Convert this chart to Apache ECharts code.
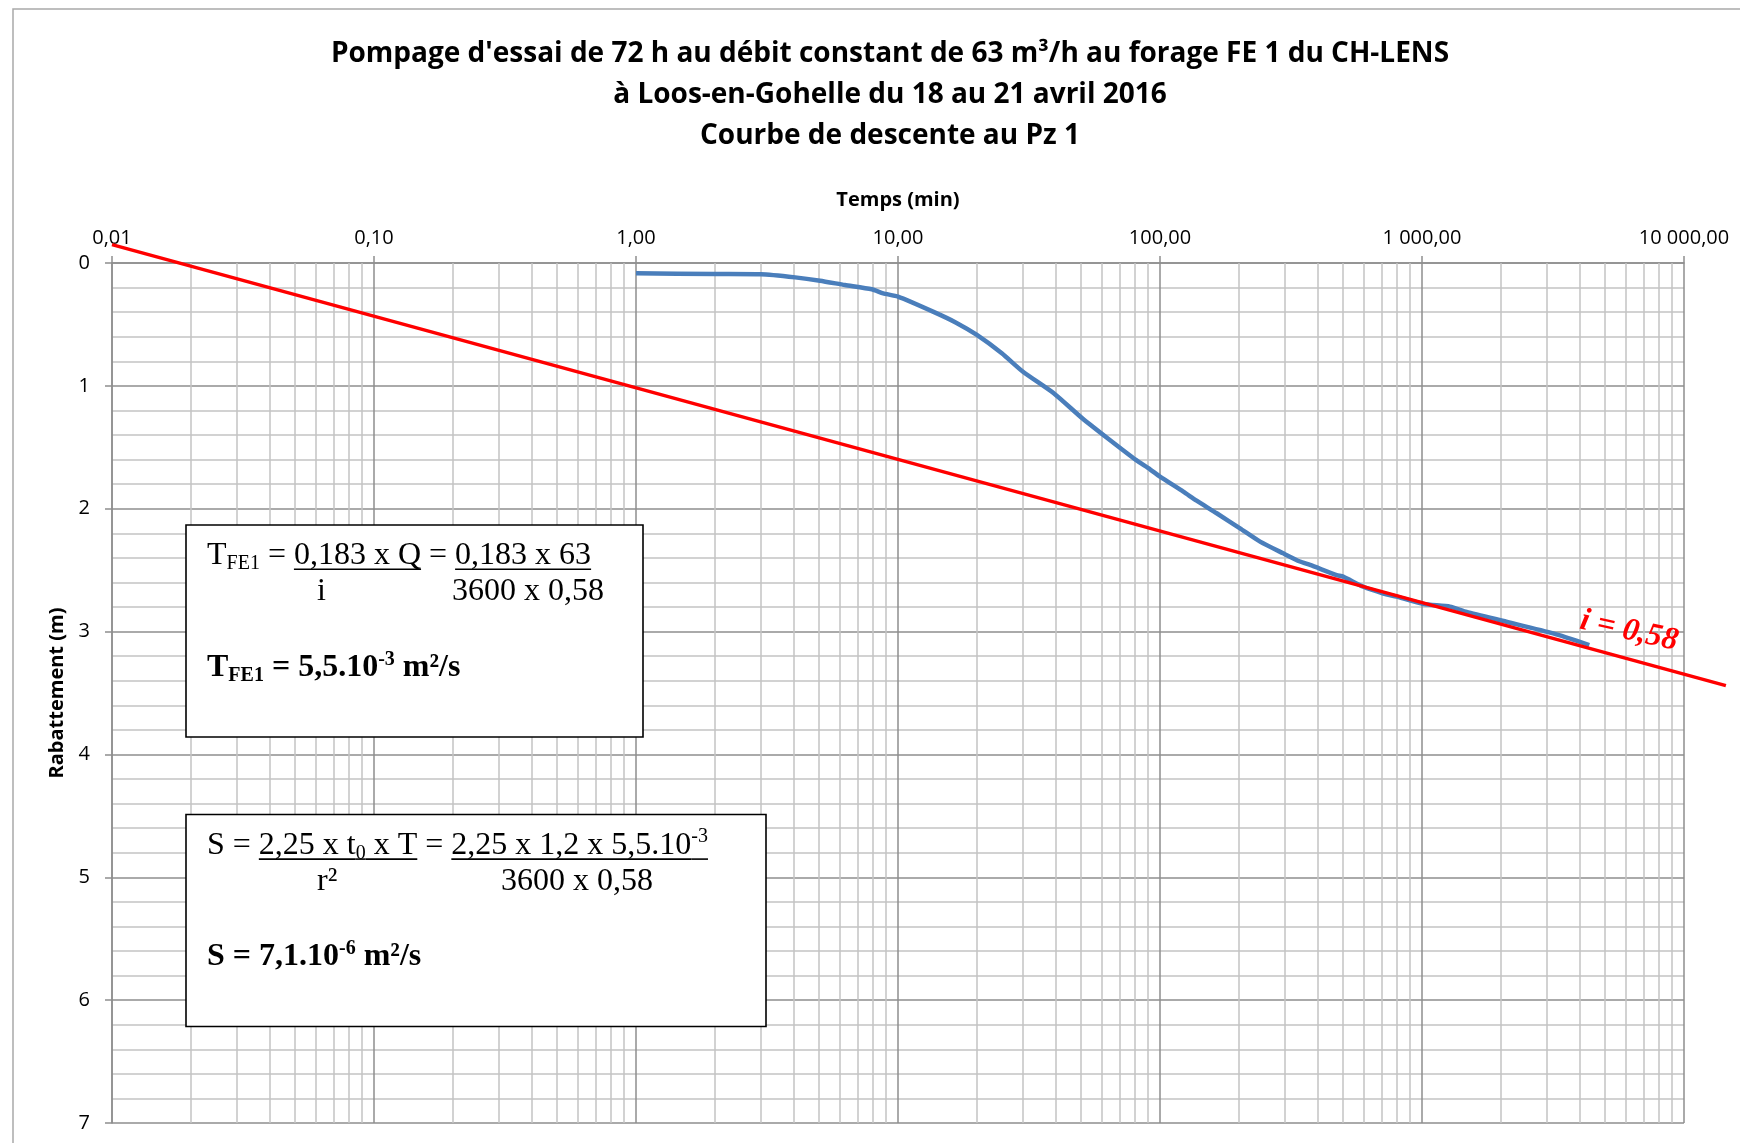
<!DOCTYPE html>
<html>
<head>
<meta charset="utf-8">
<script src="https://cdn.jsdelivr.net/npm/echarts@6/dist/echarts.min.js"></script>
<style>
html,body{margin:0;padding:0;background:#fff;}
#chart{width:1740px;height:1143px;}
</style>
</head>
<body>
<div id="chart"></div>
<script>
// ---- data ----
const titleLines = [
  "Pompage d'essai de 72 h au débit constant de 63 m³/h au forage FE 1 du CH-LENS",
  "à Loos-en-Gohelle du 18 au 21 avril 2016",
  "Courbe de descente au Pz 1"
];
const xAxisName = 'Temps (min)';
const yAxisName = 'Rabattement (m)';
const xTicks = [0.01, 0.1, 1, 10, 100, 1000, 10000];
const xTickLabels = ['0,01', '0,10', '1,00', '10,00', '100,00', '1 000,00', '10 000,00'];
const yTicks = [0, 1, 2, 3, 4, 5, 6, 7];
const yTickLabels = ['0', '1', '2', '3', '4', '5', '6', '7'];

// observed drawdown at Pz 1 (time in min, drawdown in m)
const obsTime = [1, 2, 3, 4.05, 5.04, 6.27, 7.94, 8.78, 10, 13.6, 16.6, 20, 24.9, 30, 39.3, 50.5, 63.8, 80.9, 91.6, 100, 122.7, 138, 164.6, 202, 241, 295, 342, 374, 472, 500, 597, 712, 800, 1012, 1279, 1480, 2100, 3170, 4350];
const obsDrawdown = [0.084, 0.090, 0.092, 0.117, 0.144, 0.179, 0.214, 0.247, 0.274, 0.396, 0.484, 0.586, 0.735, 0.885, 1.06, 1.264, 1.435, 1.603, 1.679, 1.739, 1.861, 1.935, 2.037, 2.16, 2.268, 2.363, 2.43, 2.458, 2.54, 2.553, 2.635, 2.69, 2.716, 2.775, 2.797, 2.84, 2.92, 3.015, 3.11];

// Jacob straight line (end points; it runs past the 10 000 min gridline)
const fitTime = [0.01, 14450];
const fitDrawdown = [-0.15, 3.44];
const fitLabel = 'i = 0,58';

// ---- build ----
const obsData = obsTime.map((t, i) => [t, obsDrawdown[i]]);
const fitData = fitTime.map((t, i) => [t, fitDrawdown[i]]);

const minorX = [];
for (let d = 0; d < xTicks.length - 1; d++) {
  for (let k = 2; k <= 9; k++) minorX.push({ xAxis: +(xTicks[d] * k).toPrecision(6) });
}

const MAJOR = '#8e8e8e';
const MINOR = '#c3c3c3';
const SERIF = '"Liberation Serif", "Times New Roman", serif';
const SANS = '"Open Sans", "Liberation Sans", sans-serif';

// plot geometry (same decade width on both grids)
const GRID_L = 112, GRID_T = 263, GRID_R = 56, GRID_B = 20;
const DECADE = (1740 - GRID_L - GRID_R) / Math.log10(xTicks[xTicks.length - 1] / xTicks[0]);
const GRID2_R = 1740 - (GRID_L + DECADE * Math.log10(fitTime[1] / xTicks[0]));

// text layout helpers for the formula boxes
const mctx = document.createElement('canvas').getContext('2d');
function fontStr(size, bold, italic) {
  return (italic ? 'italic ' : '') + (bold ? 'bold ' : '') + size + 'px ' + SERIF;
}
function midOffset(size, bold) {
  mctx.font = fontStr(size, bold);
  mctx.textBaseline = 'alphabetic';
  const a = mctx.measureText('H').actualBoundingBoxAscent;
  mctx.textBaseline = 'middle';
  const b = mctx.measureText('H').actualBoundingBoxAscent;
  mctx.textBaseline = 'alphabetic';
  return a - b;
}
const graphics = [];
function textLine(x0, baseline, segs, base) {
  let x = x0;
  segs.forEach(s => {
    const size = s.size || base.size;
    const bold = s.bold !== undefined ? s.bold : base.bold;
    const dy = s.dy || 0;
    mctx.font = fontStr(size, bold);
    const w = mctx.measureText(s.t).width;
    graphics.push({
      type: 'text', z: 12, silent: true,
      style: {
        text: s.t, x: x, y: baseline + dy - midOffset(size, bold),
        font: fontStr(size, bold), fill: '#000',
        textAlign: 'left', align: 'left',
        textVerticalAlign: 'middle', verticalAlign: 'middle'
      }
    });
    if (s.ul) {
      graphics.push({
        type: 'line', z: 12, silent: true,
        shape: { x1: x, y1: baseline + 5.5, x2: x + w, y2: baseline + 5.5 },
        style: { stroke: '#000', lineWidth: 1.6 }
      });
    }
    x += w;
  });
}

// outer chart border
graphics.push({
  type: 'rect', z: 0, silent: true,
  shape: { x: 13, y: 9, width: 1740, height: 1150 },
  style: { fill: 'none', stroke: '#a9a9a9', lineWidth: 1.5 }
});
// formula boxes
graphics.push({
  type: 'rect', z: 11, silent: true,
  shape: { x: 186, y: 525, width: 457, height: 212 },
  style: { fill: '#fff', stroke: '#000', lineWidth: 1.6 }
});
graphics.push({
  type: 'rect', z: 11, silent: true,
  shape: { x: 186, y: 814.5, width: 580, height: 212 },
  style: { fill: '#fff', stroke: '#000', lineWidth: 1.6 }
});

const reg = { size: 32, bold: false };
const bld = { size: 32, bold: true };
textLine(207, 563.7, [
  { t: 'T' }, { t: 'FE1', size: 20, dy: 5 }, { t: ' = ' },
  { t: '0,183 x Q', ul: true }, { t: ' = ' }, { t: '0,183 x 63', ul: true }
], reg);
textLine(317, 600, [{ t: 'i' }], reg);
textLine(452, 600, [{ t: '3600 x 0,58' }], reg);
textLine(207, 675.6, [
  { t: 'T' }, { t: 'FE1', size: 20, dy: 5 }, { t: ' = 5,5.10' },
  { t: '-3', size: 20, dy: -11 }, { t: ' m²/s' }
], bld);

textLine(207, 853.6, [
  { t: 'S = ' }, { t: '2,25 x t', ul: true }, { t: '0', size: 20, dy: 5, ul: true },
  { t: ' x T', ul: true }, { t: ' = ' }, { t: '2,25 x 1,2 x 5,5.10', ul: true },
  { t: '-3', size: 20, dy: -12, ul: true }
], reg);
textLine(317, 890, [{ t: 'r²' }], reg);
textLine(501, 890, [{ t: '3600 x 0,58' }], reg);
textLine(207, 965, [
  { t: 'S = 7,1.10' }, { t: '-6', size: 20, dy: -11 }, { t: ' m²/s' }
], bld);

// slope label
graphics.push({
  type: 'text', z: 12, silent: true,
  x: 1629, y: 631, rotation: -0.22,
  style: {
    text: fitLabel, x: 0, y: 0,
    font: fontStr(32, true, true), fill: '#ff0000',
    textAlign: 'center', align: 'center',
    textVerticalAlign: 'middle', verticalAlign: 'middle'
  }
});

function xLabel(v) {
  for (let i = 0; i < xTicks.length; i++) {
    if (Math.abs(Math.log10(v) - Math.log10(xTicks[i])) < 1e-6) return xTickLabels[i];
  }
  return '';
}
function yLabel(v) {
  const i = yTicks.findIndex(t => Math.abs(t - v) < 1e-9);
  return i >= 0 ? yTickLabels[i] : '';
}

const chart = echarts.init(document.getElementById('chart'), null, { renderer: 'canvas' });
chart.setOption({
  animation: false,
  backgroundColor: '#fff',
  title: {
    text: titleLines.join('\n'),
    left: 885, top: 29, textAlign: 'center',
    textStyle: { fontFamily: SANS, fontWeight: 'bold', fontSize: 28, lineHeight: 41, color: '#000' }
  },
  grid: [
    { left: GRID_L, top: GRID_T, right: GRID_R, bottom: GRID_B, containLabel: false },
    { left: GRID_L, top: GRID_T, right: GRID2_R, bottom: GRID_B, containLabel: false, show: false }
  ],
  xAxis: [{
    type: 'log', logBase: 10, min: xTicks[0], max: xTicks[xTicks.length - 1], position: 'top', gridIndex: 0,
    name: xAxisName, nameLocation: 'middle', nameGap: 53,
    nameTextStyle: { fontFamily: SANS, fontWeight: 'bold', fontSize: 20, color: '#000' },
    axisLine: { show: true, onZero: false, lineStyle: { color: MAJOR, width: 1.5 } },
    axisTick: { show: true, length: 7, lineStyle: { color: MAJOR, width: 1.5 } },
    axisLabel: { formatter: xLabel, fontFamily: SANS, fontSize: 20, color: '#000', margin: 15 },
    splitLine: { show: true, lineStyle: { color: MAJOR, width: 1.5 } },
    minorTick: { show: false },
    minorSplitLine: { show: false }
  }, {
    type: 'log', logBase: 10, min: fitTime[0], max: fitTime[1], gridIndex: 1, show: false,
    splitLine: { show: false }
  }],
  yAxis: [{
    type: 'value', inverse: true, min: yTicks[0], max: yTicks[yTicks.length - 1], interval: 1, gridIndex: 0,
    name: yAxisName, nameLocation: 'middle', nameGap: 42, nameRotate: 90,
    nameTextStyle: { fontFamily: SANS, fontWeight: 'bold', fontSize: 20, color: '#000' },
    axisLine: { show: true, onZero: false, lineStyle: { color: MAJOR, width: 1.5 } },
    axisTick: { show: true, length: 7, lineStyle: { color: MAJOR, width: 1.5 } },
    axisLabel: { formatter: yLabel, fontFamily: SANS, fontSize: 20, color: '#000', margin: 22 },
    splitLine: { show: true, lineStyle: { color: MAJOR, width: 1.5 } },
    minorTick: { show: false, splitNumber: 5 },
    minorSplitLine: { show: true, lineStyle: { color: MINOR, width: 1.5 } }
  }, {
    type: 'value', inverse: true, min: yTicks[0], max: yTicks[yTicks.length - 1], gridIndex: 1, show: false,
    splitLine: { show: false }
  }],
  series: [
    {
      name: 'grid-minor', type: 'line', data: [], silent: true, z: 1, xAxisIndex: 0, yAxisIndex: 0,
      markLine: {
        silent: true, z: 1, symbol: ['none', 'none'], animation: false,
        label: { show: false },
        lineStyle: { color: MINOR, width: 1.5, type: 'solid' },
        emphasis: { disabled: true },
        data: minorX
      }
    },
    {
      name: 'Pz 1', type: 'line', data: obsData, showSymbol: false, z: 3, xAxisIndex: 0, yAxisIndex: 0,
      smooth: 0.2,
      lineStyle: { color: '#4a7ebb', width: 4.5 }, itemStyle: { color: '#4a7ebb' }
    },
    {
      name: 'Jacob', type: 'line', data: fitData, showSymbol: false, z: 4, clip: false,
      xAxisIndex: 1, yAxisIndex: 1,
      lineStyle: { color: '#ff0000', width: 3.5 }, itemStyle: { color: '#ff0000' }
    }
  ],
  graphic: { elements: graphics }
});
</script>
</body>
</html>
